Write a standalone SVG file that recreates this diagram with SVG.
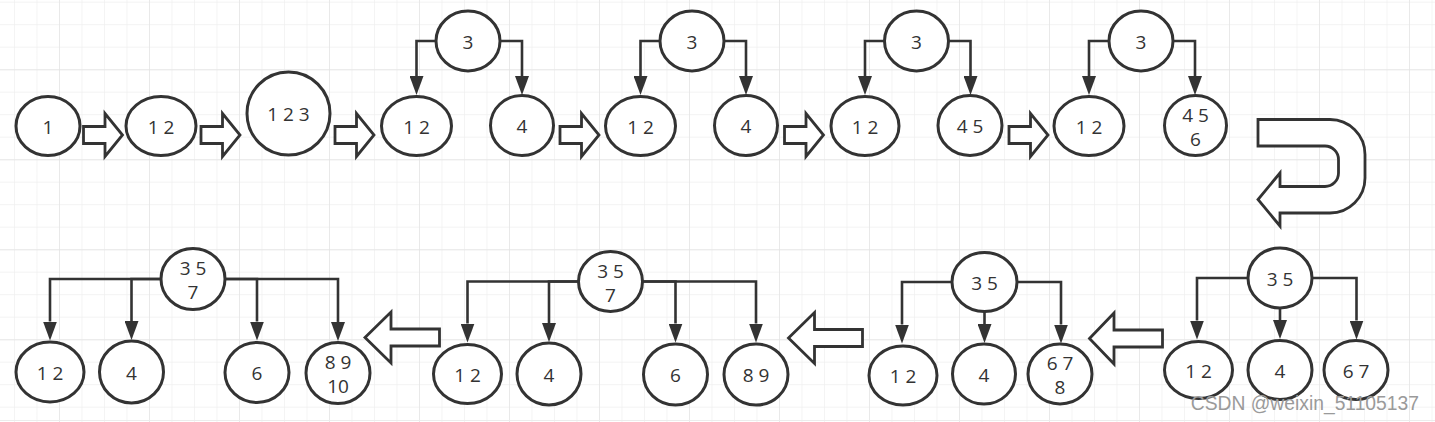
<svg xmlns="http://www.w3.org/2000/svg" width="1435" height="422" viewBox="0 0 1435 422">
<defs>
<pattern id="gmin" patternUnits="userSpaceOnUse" x="14" y="1.7" width="22.5" height="22.5"><path d="M0,0 V22.5 M0,0 H22.5" fill="none" stroke="#efefef" stroke-width="1.3"/></pattern>
<pattern id="gmaj" patternUnits="userSpaceOnUse" x="59" y="69.3" width="90" height="90"><path d="M0,0 V90 M0,0 H90" fill="none" stroke="#e3e3e3" stroke-width="1.3"/></pattern>
<marker id="ah" markerUnits="userSpaceOnUse" markerWidth="20" markerHeight="14" refX="0" refY="7" orient="auto"><path d="M0,0 L19,7 L0,14 Z" fill="#333"/></marker>
<style>
.node ellipse{fill:#fff;stroke:#333;stroke-width:3}
.node text{font-family:"Open Sans","Liberation Sans",Arial,sans-serif;font-size:19px;fill:#333;text-anchor:middle}
.edge{fill:none;stroke:#333;stroke-width:2.6;marker-end:url(#ah)}
.blk{fill:#fff;stroke:#333;stroke-width:2.8;stroke-linejoin:miter}
.wm{font-family:"Liberation Sans",Arial,sans-serif;font-size:19.3px;fill:#9a9a9a;text-anchor:end}
</style>
</defs>
<rect width="1435" height="422" fill="#fff"/>
<rect width="1435" height="422" fill="url(#gmin)"/>
<rect width="1435" height="422" fill="url(#gmaj)"/>
<line x1="0" y1="420.5" x2="1435" y2="420.5" stroke="#ececec" stroke-width="1"/>

<g id="blockarrows">
<path class="blk" d="M83.5,126.5 H105 V113.5 L122.5,135 L105,156.5 V143.5 H83.5 Z"/>
<path class="blk" d="M201,126.5 H222.5 V113.5 L240,135 L222.5,156.5 V143.5 H201 Z"/>
<path class="blk" d="M335,126.5 H356.5 V113.5 L374,135 L356.5,156.5 V143.5 H335 Z"/>
<path class="blk" d="M560,126.5 H581.5 V113.5 L599,135 L581.5,156.5 V143.5 H560 Z"/>
<path class="blk" d="M784.5,126.5 H806 V113.5 L823.5,135 L806,156.5 V143.5 H784.5 Z"/>
<path class="blk" d="M1009,126.5 H1030.5 V113.5 L1048,135 L1030.5,156.5 V143.5 H1009 Z"/>
<path class="blk" d="M1258,119.5 H1330 A35,35 0 0 1 1365,154.5 V178 A35,35 0 0 1 1330,213 H1280 V226 L1258,199.5 L1280,173 V186.5 H1325 A13.5,13.5 0 0 0 1338.5,173 V159.5 A13.5,13.5 0 0 0 1325,146 H1258 Z"/>
<path class="blk" d="M365,337.5 L391,312 V329 H439.5 V346 H391 V363 Z"/>
<path class="blk" d="M788.5,338 L814.5,312.5 V329.5 H862.5 V346.5 H814.5 V363.5 Z"/>
<path class="blk" d="M1089.5,338.5 L1114,313 V330 H1162.5 V347 H1114 V364 Z"/>
</g>

<g id="connectors">
<path class="edge" d="M435.5,41 H416.5 V76"/>
<path class="edge" d="M500.5,41 H522 V76"/>
<path class="edge" d="M659.5,41 H640.5 V76"/>
<path class="edge" d="M724.5,41 H746 V76"/>
<path class="edge" d="M884,41 H865 V76"/>
<path class="edge" d="M949,41 H970.5 V76"/>
<path class="edge" d="M1108.5,41 H1089 V76"/>
<path class="edge" d="M1173.5,41 H1195 V76"/>
<path class="edge" d="M161,279 H50 V321.5"/>
<path class="edge" d="M161,279 H131.5 V321"/>
<path class="edge" d="M225,279 H257 V321.5"/>
<path class="edge" d="M225,279 H338 V322"/>
<path class="edge" d="M578.5,281.5 H467.5 V323.5"/>
<path class="edge" d="M578.5,281.5 H549 V323"/>
<path class="edge" d="M642.5,281.5 H675.5 V323.5"/>
<path class="edge" d="M642.5,281.5 H756 V323.5"/>
<path class="edge" d="M952,282 H902 V324.5"/>
<path class="edge" d="M984.5,311.5 V324"/>
<path class="edge" d="M1017,282 H1061 V324.5"/>
<path class="edge" d="M1247.5,278 H1197 V320.5"/>
<path class="edge" d="M1280,308 V320"/>
<path class="edge" d="M1312.5,278 H1356.5 V320.5"/>
</g>

<g id="n1" class="node"><ellipse cx="48" cy="126" rx="32" ry="29.5"/><text x="48" y="133.5">1</text></g>
<g id="n2" class="node"><ellipse cx="161" cy="126" rx="35" ry="29.5"/><text x="161" y="133.5">1 2</text></g>
<g id="n3" class="node"><ellipse cx="288.5" cy="113.5" rx="41.5" ry="41.5"/><text x="288.5" y="121">1 2 3</text></g>

<g id="t1root" class="node"><ellipse cx="468" cy="41" rx="32" ry="30"/><text x="468" y="48.5">3</text></g>
<g id="t1a" class="node"><ellipse cx="416.5" cy="126" rx="35" ry="29.5"/><text x="416.5" y="133.5">1 2</text></g>
<g id="t1b" class="node"><ellipse cx="522" cy="125.5" rx="31.5" ry="30"/><text x="522" y="133">4</text></g>

<g id="t2root" class="node"><ellipse cx="692" cy="41" rx="32" ry="30"/><text x="692" y="48.5">3</text></g>
<g id="t2a" class="node"><ellipse cx="640.5" cy="126" rx="35" ry="29.5"/><text x="640.5" y="133.5">1 2</text></g>
<g id="t2b" class="node"><ellipse cx="746" cy="125.5" rx="31.5" ry="30"/><text x="746" y="133">4</text></g>

<g id="t3root" class="node"><ellipse cx="916.5" cy="41" rx="32" ry="30"/><text x="916.5" y="48.5">3</text></g>
<g id="t3a" class="node"><ellipse cx="865" cy="126" rx="34" ry="29.5"/><text x="865" y="133.5">1 2</text></g>
<g id="t3b" class="node"><ellipse cx="970" cy="125.5" rx="32" ry="30"/><text x="970" y="133">4 5</text></g>

<g id="t4root" class="node"><ellipse cx="1141" cy="41" rx="32" ry="30"/><text x="1141" y="48.5">3</text></g>
<g id="t4a" class="node"><ellipse cx="1089" cy="126" rx="35" ry="29.5"/><text x="1089" y="133.5">1 2</text></g>
<g id="t4b" class="node"><ellipse cx="1195.5" cy="125.5" rx="31" ry="30"/><text x="1195.5" y="121.5">4 5</text><text x="1195.5" y="145.5">6</text></g>

<g id="aroot" class="node"><ellipse cx="193" cy="279" rx="32" ry="30.5"/><text x="193" y="275">3 5</text><text x="193" y="299">7</text></g>
<g id="a1" class="node"><ellipse cx="50" cy="372" rx="34" ry="30"/><text x="50" y="379.5">1 2</text></g>
<g id="a2" class="node"><ellipse cx="131.5" cy="372" rx="32" ry="31"/><text x="131.5" y="379.5">4</text></g>
<g id="a3" class="node"><ellipse cx="257" cy="372.5" rx="32" ry="30"/><text x="257" y="380">6</text></g>
<g id="a4" class="node"><ellipse cx="338" cy="373" rx="32" ry="30.5"/><text x="338" y="369">8 9</text><text x="338" y="393">10</text></g>

<g id="broot" class="node"><ellipse cx="610.5" cy="281.5" rx="32" ry="30"/><text x="610.5" y="277.5">3 5</text><text x="610.5" y="301.5">7</text></g>
<g id="b1" class="node"><ellipse cx="467.5" cy="374" rx="34" ry="29.5"/><text x="467.5" y="381.5">1 2</text></g>
<g id="b2" class="node"><ellipse cx="549" cy="374" rx="32" ry="31"/><text x="549" y="381.5">4</text></g>
<g id="b3" class="node"><ellipse cx="675.5" cy="374.5" rx="32" ry="30.5"/><text x="675.5" y="382">6</text></g>
<g id="b4" class="node"><ellipse cx="756" cy="374.5" rx="32" ry="30.5"/><text x="756" y="382">8 9</text></g>

<g id="croot" class="node"><ellipse cx="984.5" cy="282" rx="32.5" ry="29.5"/><text x="984.5" y="289.5">3 5</text></g>
<g id="c1" class="node"><ellipse cx="903" cy="375.5" rx="34" ry="29.5"/><text x="903" y="383">1 2</text></g>
<g id="c2" class="node"><ellipse cx="984" cy="374" rx="31.5" ry="30"/><text x="984" y="381.5">4</text></g>
<g id="c3" class="node"><ellipse cx="1060" cy="374" rx="32" ry="30"/><text x="1060" y="370">6 7</text><text x="1060" y="394">8</text></g>

<g id="droot" class="node"><ellipse cx="1280" cy="278" rx="32" ry="30"/><text x="1280" y="285.5">3 5</text></g>
<g id="d1" class="node"><ellipse cx="1198.5" cy="370" rx="34" ry="28.5"/><text x="1198.5" y="377.5">1 2</text></g>
<g id="d2" class="node"><ellipse cx="1280" cy="370" rx="32" ry="29.5"/><text x="1280" y="377.5">4</text></g>
<g id="d3" class="node"><ellipse cx="1356" cy="370" rx="32" ry="29.5"/><text x="1356" y="377.5">6 7</text></g>

<text class="wm" x="1419" y="410">CSDN @weixin_51105137</text>
</svg>
